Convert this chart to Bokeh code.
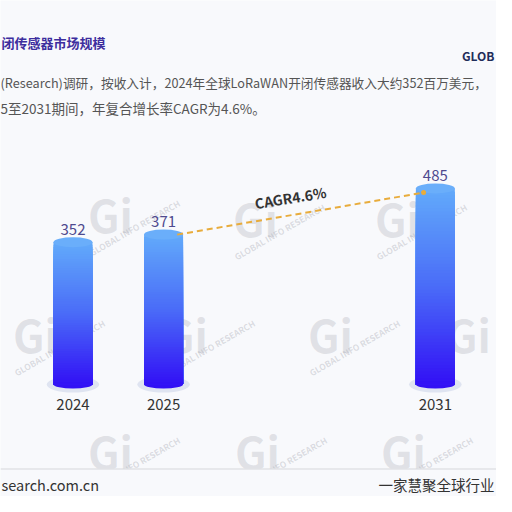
from bokeh.plotting import figure
from bokeh.models import Range1d, Label, Span, ColumnDataSource, BoxAnnotation
from bokeh.transform import dodge
from bokeh.core.properties import value
from bokeh.embed import file_html
from bokeh.resources import INLINE

# ---------------- data ----------------
categories = ["2024", "2025", "2026", "2027", "2031"]   # slots; 2026/2027 hidden (gap)
years = ["2024", "2025", "2031"]
revenue = [352, 371, 485]
cagr_from = "2025"
cagr_to = "2031"
cagr_text = "CAGR4.6%"

title_text = "闭传感器市场规模"
desc_line1 = "(Research)调研，按收入计，2024年全球LoRaWAN开闭传感器收入大约352百万美元，"
desc_line2 = "5至2031期间，年复合增长率CAGR为4.6%。"
logo_short = "GLOB"
wm_text = "GLOBAL INFO RESEARCH"
footer_left = "search.com.cn"
footer_right = "一家慧聚全球行业"

# ---------------- style ----------------
BG = "#f8f9fc"
FONT = "Noto Sans CJK SC"
TOP_C = (98, 170, 250)
MID_C = (74, 108, 248)
BOT_C = (50, 16, 245)

W = H = 496
ZERO_PX = 384      # canvas y of value 0
PX_PER_UNIT = 0.404


def grad(f):
    if f >= 0.5:
        t = (f - 0.5) / 0.5
        a, b = MID_C, TOP_C
    else:
        t = f / 0.5
        a, b = BOT_C, MID_C
    c = [int(round(a[i] + (b[i] - a[i]) * t)) for i in range(3)]
    return "#%02x%02x%02x" % tuple(c)


def ydata(cy):
    return (ZERO_PX - cy) / PX_PER_UNIT


p = figure(width=W, height=H, title=None,
           x_range=Range1d(-0.8, 4.675),
           y_range=Range1d(ydata(H), ydata(0)),
           output_backend="svg", toolbar_location=None,
           x_axis_location=None, y_axis_location=None, min_border=0,
           background_fill_color=BG, border_fill_color=BG,
           outline_line_color=None)
p.xgrid.grid_line_color = None
p.ygrid.grid_line_color = None


def lab(x, y, text, size, color, bold=False, align="left", angle=0.0,
        alpha=1.0, level="annotation"):
    p.add_layout(Label(x=x, y=y, x_units="canvas", y_units="canvas", text=text,
                       text_font=FONT, text_font_style="bold" if bold else "normal",
                       text_font_size=size, text_color=color, text_alpha=alpha,
                       text_align=align, text_baseline="middle", angle=angle,
                       level=level))


# watermarks (behind bars)
wm_logos = [(110, 213), (255, 217), (397, 217),
            (35, 333), (185, 333), (330, 333), (468, 333),
            (110, 450), (257, 450), (403, 450)]
wm_texts = [(134, 227), (279, 231), (421, 231),
            (59, 347), (209, 347), (354, 347),
            (134, 464), (281, 464), (427, 464)]
for (wx, wy) in wm_logos:
    lab(wx, wy, "Gi", "44px", "#9a9ca6", bold=True, align="center",
        alpha=0.25, level="underlay")
for (wx, wy) in wm_texts:
    lab(wx, wy, wm_text, "8.5px", "#9a9ca6", bold=True, align="center",
        angle=0.52, alpha=0.32, level="underlay")

xpos = [categories.index(y) for y in years]
base = [0] * len(years)
src = ColumnDataSource(dict(x=xpos, year=years, top=revenue, base=base,
                            label=[str(v) for v in revenue]))

# shadow under bars
p.ellipse(x="x", y="base", width=0.58, height=16, height_units="screen",
          fill_color="#dfe4f1", line_color=None, source=src)
# rounded bottom of bars
p.ellipse(x="x", y="base", width=0.43, height=8, height_units="screen",
          fill_color=grad(0.0), line_color=None, source=src)

# gradient bars: stacked overlays, tallest first
N = 60
gx, gtop, gcol = [], [], []
for xi, v in zip(xpos, revenue):
    for k in range(N):
        gx.append(xi)
        gtop.append(v * (N - k) / N)
        gcol.append(grad((N - k - 0.5) / N))
p.vbar(x=gx, top=gtop, bottom=0, width=0.43, fill_color=gcol, line_color=None)

# top caps
p.ellipse(x="x", y="top", width=0.43, height=10, height_units="screen",
          fill_color="#6aaefa", line_color=None, source=src)

# value labels
p.text(x="x", y="top", text="label", source=src,
       y_offset=-13, text_align="center", text_baseline="middle",
       text_font=value(FONT), text_font_size="15px", text_color="#4f4a8f")

# category (year) labels
p.text(x="x", y="base", text="year", source=src,
       y_offset=20, text_align="center", text_baseline="middle",
       text_font=value(FONT), text_font_size="15px", text_color="#333333")

# CAGR dashed line
cagr_src = ColumnDataSource(dict(
    x0=[categories.index(cagr_from)], y0=[revenue[years.index(cagr_from)]],
    x1=[categories.index(cagr_to)], y1=[revenue[years.index(cagr_to)] - 10]))
p.segment(x0=dodge("x0", 0.15, range=p.x_range), y0="y0",
          x1=dodge("x1", -0.13, range=p.x_range), y1="y1",
          line_color="#e8ac3c", line_width=2, line_dash="6 4", source=cagr_src)
p.scatter(x=dodge("x1", -0.13, range=p.x_range), y="y1", size=5,
          fill_color="#e8ac3c", line_color=None, source=cagr_src)
lab(290, 197, cagr_text, "14px", "#333333", bold=True, align="center", angle=0.16)

# header texts
lab(1, 42, title_text, "13px", "#3d2e9e", bold=True)
lab(494, 55, logo_short, "12px", "#1f2d5a", bold=True, align="right")
lab(0, 82, desc_line1, "12.7px", "#555555")
lab(0, 107, desc_line2, "13.5px", "#555555")

# footer panel
p.add_layout(BoxAnnotation(top=ydata(468), fill_color=BG, fill_alpha=1.0,
                           line_color=None))
p.add_layout(Span(location=ydata(468.5), dimension="width", line_color="#d6d7db",
                  line_width=1))
lab(1, 484, footer_left, "14.5px", "#333333")
lab(494, 484, footer_right, "14.5px", "#333333", align="right")

open("out.html", "w").write(file_html(p, INLINE))
